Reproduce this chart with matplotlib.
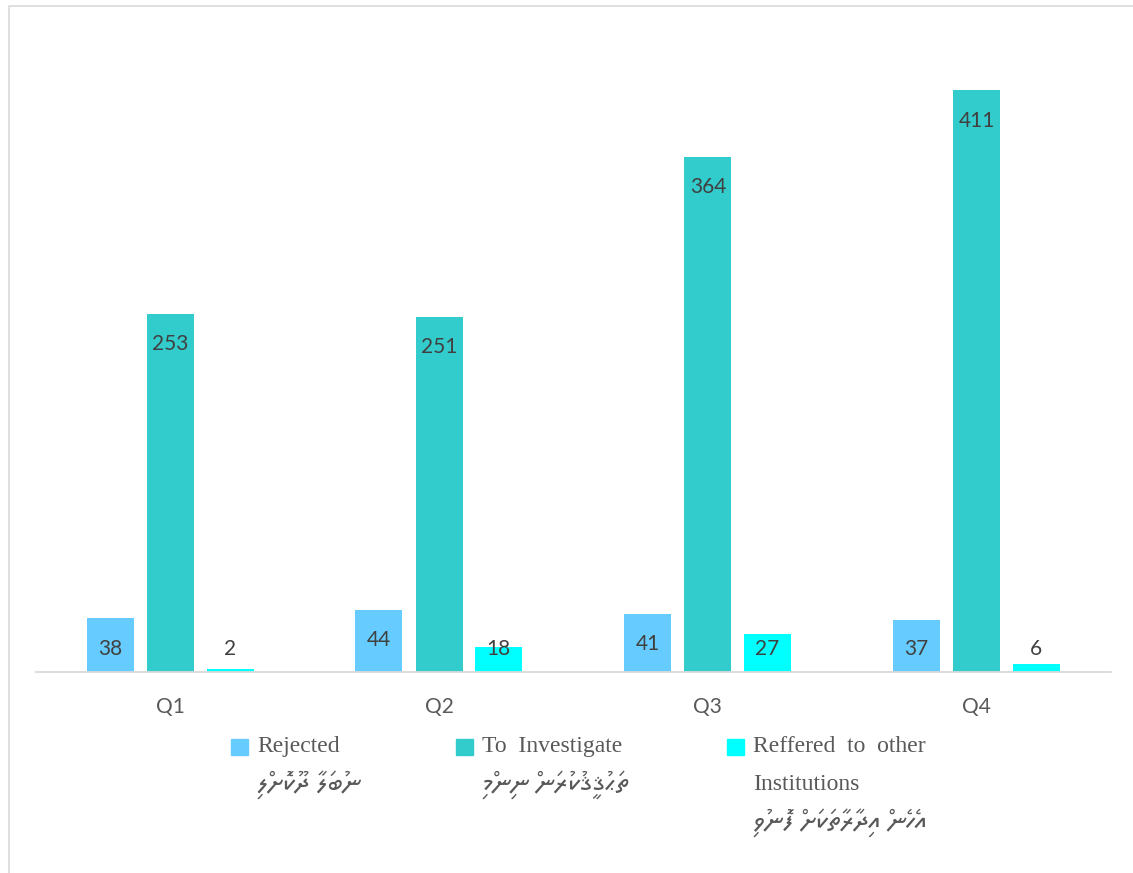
import matplotlib
matplotlib.use("Agg")
import matplotlib.pyplot as plt
from matplotlib.patches import Rectangle
import numpy as np

# ---------------- data ----------------
quarters = ["Q1", "Q2", "Q3", "Q4"]
rejected = [38, 44, 41, 37]
investigate = [253, 251, 364, 411]
referred = [2, 18, 27, 6]

series_en = [["Rejected"], ["To  Investigate"], ["Reffered  to  other", "Institutions"]]
series_dv = ["ނުބަލާ ދޫކޮށްލި", "ތަޙުޤީޤުކުރަން ނިންމި", "އެހެން އިދާރާތަކަށް ފޮނުވި"]
colors = ["#66CCFF", "#33CCCC", "#00FFFF"]


def visual(s):
    """Thaana is right-to-left; matplotlib draws left-to-right."""
    return s[::-1]


W, H = 1133, 873
fig = plt.figure(figsize=(W / 100, H / 100), dpi=100)
ax = fig.add_axes([36 / W, 1 - 672 / H, 1075 / W, 637 / H])

x = np.arange(len(quarters))
width = 0.175
offsets = [-0.224, 0.0, 0.222]
all_series = [rejected, investigate, referred]
num_font = "Lato"
for vals, off, col in zip(all_series, offsets, colors):
    ax.bar(x + off, vals, width=width, color=col, zorder=2)
    for xi, v in zip(x, vals):
        ax.text(xi + off, max(v - 21.5, 16.0), str(v), ha="center", va="center",
                fontsize=15, color="#404040", family=num_font, zorder=3)

ax.set_xlim(-0.5, 3.5)
ax.set_ylim(0, 450)
ax.set_yticks([])
ax.set_xticks(x)
ax.set_xticklabels(quarters, fontsize=15, color="#595959", family=num_font)
ax.tick_params(axis="x", length=0, pad=18)
for s in ["left", "right", "top"]:
    ax.spines[s].set_visible(False)
ax.spines["bottom"].set_color("#D9D9D9")
ax.spines["bottom"].set_linewidth(1.3)

# ---------------- legend (manual) ----------------
sq_x = [231, 456, 727]
txt_x = [257, 482, 753]
dv_family = ["Noto Sans Thaana", "FreeSerif", "DejaVu Sans"]
for i in range(3):
    fig.patches.append(Rectangle((sq_x[i] / W, 1 - 755 / H), 17 / W, 16 / H,
                                 transform=fig.transFigure, color=colors[i]))
    for j, line in enumerate(series_en[i]):
        fig.text(txt_x[i] / W, 1 - (752 + 38 * j) / H, line, fontsize=17,
                 family="Liberation Serif", color="#595959", ha="left",
                 va="baseline")
    n_lines = len(series_en[i]) - 1
    fig.text(txt_x[i] / W, 1 - (785 + 38 * n_lines) / H, visual(series_dv[i]),
             fontsize=20, family=dv_family, color="#595959", ha="left",
             va="center")

# outer border
fig.patches.append(Rectangle((8.5 / W, -0.05), 1.2, 1.05 - 6 / H,
                             transform=fig.transFigure, fill=False,
                             edgecolor="#D9D9D9", lw=1.2))

fig.savefig("out.png", dpi=100)
